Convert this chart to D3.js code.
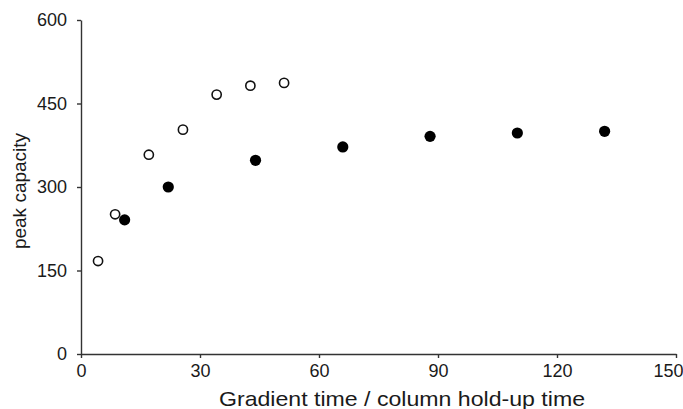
<!DOCTYPE html>
<html>
<head>
<meta charset="utf-8">
<script src="https://cdn.jsdelivr.net/npm/d3@7"></script>
<style>
  body { margin: 0; background: #fff; }
  svg { font-family: "Liberation Sans", Arial, sans-serif; }
</style>
</head>
<body>
<svg width="683" height="409"></svg>
<script>
// open circles
const openX = [4.3, 8.6, 17.1, 25.7, 34.2, 42.7, 51.2];
const openY = [167, 251, 358, 403, 466, 482, 487];
// filled circles
const filledX = [11, 22, 44, 66, 88, 110, 132];
const filledY = [241, 300, 348, 372, 391, 397, 400];

const xTicks = [0, 30, 60, 90, 120, 150];
const yTicks = [0, 150, 300, 450, 600];

let svg = d3.select('svg');

let x = d3.scaleLinear().domain([0, 150]).range([81, 676]);
let y = d3.scaleLinear().domain([0, 600]).range([354, 20]);

let xAxis = d3.axisBottom(x).tickValues(xTicks).tickSize(4).tickPadding(6).tickSizeOuter(0);
let yAxis = d3.axisLeft(y).tickValues(yTicks).tickSize(4).tickPadding(10).tickSizeOuter(0);

let gx = svg.append('g')
  .attr('transform', 'translate(0,354)')
  .call(xAxis);
let gy = svg.append('g')
  .attr('transform', 'translate(81,0)')
  .call(yAxis);

[gx, gy].forEach((g) => {
  g.selectAll('path, line').attr('stroke', '#333').attr('stroke-width', 1.4);
  g.selectAll('text').attr('fill', '#1a1a1a').style('font-size', '18px');
});
// keep the last x label inside the picture
gx.selectAll('.tick text')
  .filter((d) => d === 150)
  .attr('text-anchor', 'end')
  .attr('x', 683 - x(150));

svg.append('text')
  .attr('x', 402)
  .attr('y', 406)
  .attr('text-anchor', 'middle')
  .attr('fill', '#1a1a1a')
  .attr('textLength', 366)
  .attr('lengthAdjust', 'spacingAndGlyphs')
  .style('font-size', '21px')
  .text('Gradient time / column hold-up time');

svg.append('text')
  .attr('transform', `translate(26,191) rotate(-90)`)
  .attr('text-anchor', 'middle')
  .attr('fill', '#1a1a1a')
  .style('font-size', '19px')
  .text('peak capacity');

let openData = openX.map((d, i) => ({ x: d, y: openY[i] }));
let filledData = filledX.map((d, i) => ({ x: d, y: filledY[i] }));

svg.selectAll('circle.open')
  .data(openData)
  .enter()
  .append('circle')
  .attr('class', 'open')
  .attr('cx', (d) => x(d.x))
  .attr('cy', (d) => y(d.y))
  .attr('r', 4.6)
  .attr('fill', '#fff')
  .attr('stroke', '#111')
  .attr('stroke-width', 1.6);

svg.selectAll('circle.filled')
  .data(filledData)
  .enter()
  .append('circle')
  .attr('class', 'filled')
  .attr('cx', (d) => x(d.x))
  .attr('cy', (d) => y(d.y))
  .attr('r', 5.6)
  .attr('fill', '#000');
</script>
</body>
</html>
